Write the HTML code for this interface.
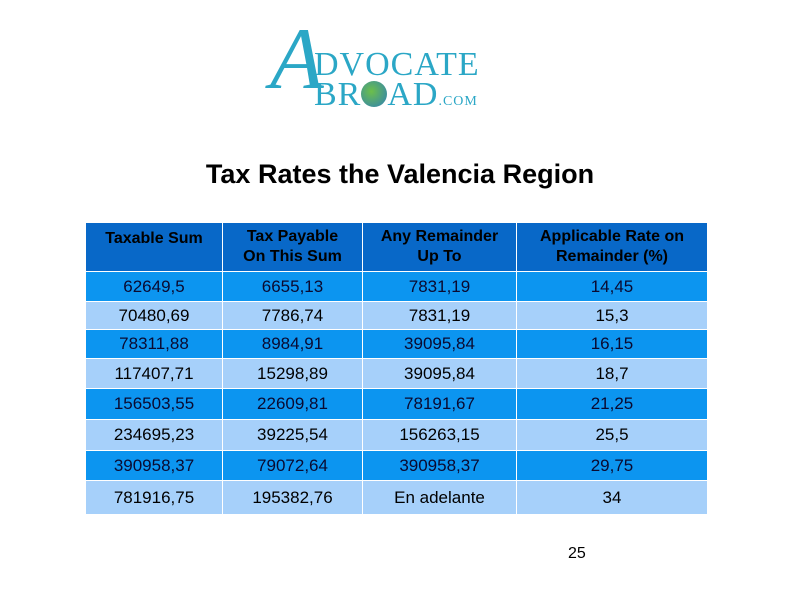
<!DOCTYPE html>
<html><head><meta charset="utf-8"><style>
body{margin:0;width:794px;height:595px;background:#fff;position:relative;overflow:hidden;font-family:"Liberation Sans",Arial,sans-serif}
.c{position:absolute;display:flex;align-items:center;justify-content:center;text-align:center;font-size:17px;color:#0a0a30;box-sizing:border-box}
.h{background:#0868c8;font-weight:bold;line-height:20px;color:#000;font-size:16px}
.o{background:#0c95f0}
.e{background:#a6d0fa;color:#000}
</style></head><body>
<div style="position:absolute;left:262px;top:22px;width:230px;height:86px;color:#2ba7c6;font-family:'Liberation Serif',serif">
<div style="position:absolute;left:8px;top:-6px;font-size:88px;font-style:italic;line-height:88px">A</div>
<div style="position:absolute;left:52px;top:26px;font-size:34px;line-height:34px;letter-spacing:1px">DVOCATE</div>
<div style="position:absolute;left:52px;top:56px;font-size:34px;line-height:34px;letter-spacing:1px">BR<span style="display:inline-block;width:26px;height:26px;border-radius:50%;background:radial-gradient(circle at 40% 40%,#6cbf4a,#2e7fb8);vertical-align:-2px"></span>AD<span style="font-size:14px">.COM</span></div>
</div>
<div style="position:absolute;left:0;width:800px;top:159px;text-align:center;font-size:27px;font-weight:bold;color:#000">Tax Rates the Valencia Region</div>
<div id="t"></div>
<div style="position:absolute;left:568px;top:545px;font-size:16px">25</div>
<script>
const headers=["Taxable Sum","Tax Payable<br>On This Sum","Any Remainder<br>Up To","Applicable Rate on<br>Remainder (%)"];
const col1=["62649,5","70480,69","78311,88","117407,71","156503,55","234695,23","390958,37","781916,75"];
const col2=["6655,13","7786,74","8984,91","15298,89","22609,81","39225,54","79072,64","195382,76"];
const col3=["7831,19","7831,19","39095,84","39095,84","78191,67","156263,15","390958,37","En adelante"];
const col4=["14,45","15,3","16,15","18,7","21,25","25,5","29,75","34"];
const xs=[86,223,363,517,708];
const ys=[223,272,302,330,359,389,420,451,481,515];
const t=document.getElementById('t');
const cols=[col1,col2,col3,col4];
function cell(x0,x1,y0,y1,cls,html){const d=document.createElement('div');d.className='c '+cls;d.style.left=x0+'px';d.style.top=y0+'px';d.style.width=(x1-x0-1)+'px';d.style.height=(y1-y0-1)+'px';d.innerHTML=html;t.appendChild(d);return d;}
for(let c=0;c<4;c++){const d=cell(xs[c],xs[c+1],ys[0],ys[1],'h',headers[c]);


if(c==0){d.style.alignItems='flex-start';d.style.paddingTop='6px';}}
for(let r=0;r<8;r++)for(let c=0;c<4;c++){const d=cell(xs[c],xs[c+1],ys[r+1],ys[r+2],r%2?'e':'o',cols[c][r]);

}
</script>
</body></html>
